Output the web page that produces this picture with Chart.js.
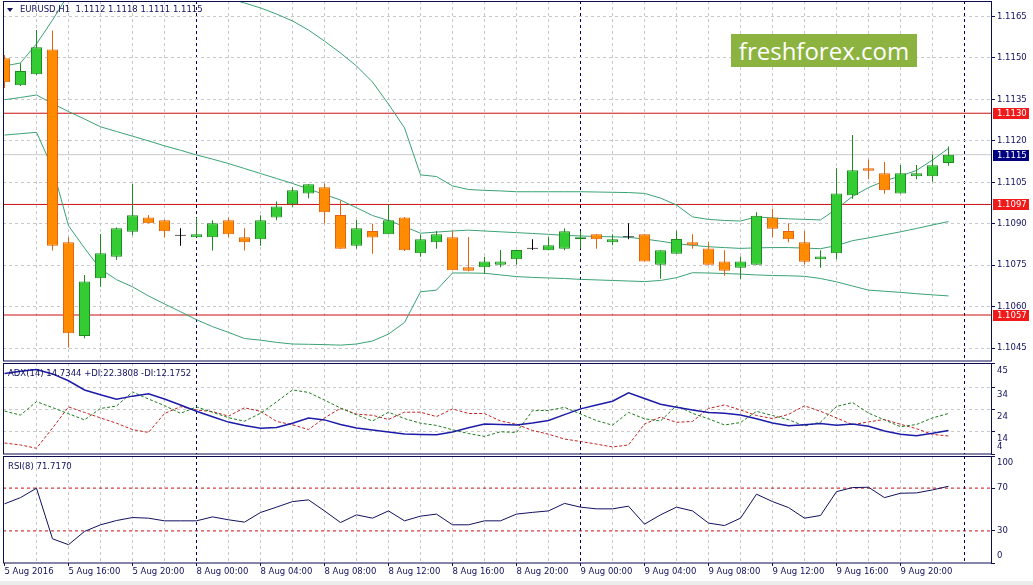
<!DOCTYPE html>
<html>
<head>
<meta charset="utf-8">
<title>EURUSD,H1</title>
<script src="https://cdn.jsdelivr.net/npm/chart.js@4.4.1/dist/chart.umd.min.js"></script>
<style>
  html, body { margin: 0; padding: 0; background: #fff; }
  #wrap { position: relative; width: 1033px; height: 585px; overflow: hidden; }
  canvas { position: absolute; left: 0; }
  #main { top: 0; }
  #adx { top: 362px; }
  #rsi { top: 455px; }
  .lbl { position: absolute; font: 8.5px 'DejaVu Sans', sans-serif; color: #101060; white-space: pre; line-height: 10px; }
  #tri { position: absolute; left: 7px; top: 8px; width: 0; height: 0;
         border-left: 3px solid transparent; border-right: 3px solid transparent; border-top: 4px solid #101060; }
  #logo { position: absolute; left: 731px; top: 34px; width: 186px; height: 33px; background: #8cb33f;
          color: #fff; font: 24px 'Open Sans', sans-serif; line-height: 33px; text-align: center; }
  #foot { position: absolute; left: 0; top: 581px; width: 1033px; height: 4px; background: #ececec; }
</style>
</head>
<body>
<div id="wrap">
  <canvas id="main" width="1033" height="362"></canvas>
  <canvas id="adx" width="1033" height="93"></canvas>
  <canvas id="rsi" width="1033" height="130"></canvas>
  <div id="tri"></div>
  <div class="lbl" style="left:20px; top:4px;">EURUSD,H1  1.1112 1.1118 1.1111 1.1115</div>
  <div id="logo">freshforex.com</div>
  <div class="lbl" style="left:8px; top:368px;">ADX(14) 14.7344 +DI:22.3808 -DI:12.1752</div>
  <div class="lbl" style="left:8px; top:461px;">RSI(8) 71.7170</div>
  <div id="foot"></div>
</div>
<script>
// hourly bars, 5 Aug 12:00 .. 9 Aug 23:00 (index 0..59)
const opens  = [1.11499, 1.11401, 1.11441, 1.11531, 1.10833, 1.10494, 1.10703, 1.10781, 1.10871, 1.10923,
                1.10913, 1.10857, 1.10851, 1.10851, 1.10913, 1.10851, 1.10844, 1.10923, 1.10971, 1.11010,
                1.11032, 1.10932, 1.10821, 1.10874, 1.10862, 1.10923, 1.10793, 1.10833, 1.10851, 1.10743,
                1.10743, 1.10752, 1.10772, 1.10810, 1.10804, 1.10810, 1.10844, 1.10862, 1.10833, 1.10851,
                1.10862, 1.10752, 1.10792, 1.10833, 1.10811, 1.10764, 1.10741, 1.10752, 1.10923, 1.10874,
                1.10833, 1.10772, 1.10793, 1.11003, 1.11101, 1.11083, 1.11010, 1.11072, 1.11072, 1.11120];
const highs  = [1.11511, 1.11481, 1.11601, 1.11599, 1.10851, 1.10715, 1.10863, 1.10887, 1.11044, 1.10932,
                1.10915, 1.10884, 1.10923, 1.10913, 1.10923, 1.10884, 1.10931, 1.10981, 1.11032, 1.11043,
                1.11046, 1.10984, 1.10914, 1.10900, 1.10971, 1.10925, 1.10862, 1.10874, 1.10874, 1.10852,
                1.10781, 1.10805, 1.10805, 1.10844, 1.10851, 1.10884, 1.10874, 1.10862, 1.10862, 1.10902,
                1.10862, 1.10804, 1.10875, 1.10862, 1.10833, 1.10804, 1.10782, 1.10942, 1.10954, 1.10902,
                1.10874, 1.10804, 1.11101, 1.11221, 1.11133, 1.11124, 1.11113, 1.11113, 1.11151, 1.11180];
const lows   = [1.11391, 1.11399, 1.11438, 1.10803, 1.10452, 1.10486, 1.10672, 1.10769, 1.10859, 1.10902,
                1.10851, 1.10821, 1.10851, 1.10803, 1.10851, 1.10803, 1.10821, 1.10913, 1.10962, 1.10992,
                1.10902, 1.10810, 1.10810, 1.10792, 1.10862, 1.10802, 1.10781, 1.10810, 1.10732, 1.10728,
                1.10718, 1.10743, 1.10752, 1.10805, 1.10804, 1.10804, 1.10810, 1.10810, 1.10822, 1.10844,
                1.10764, 1.10701, 1.10792, 1.10810, 1.10752, 1.10712, 1.10701, 1.10752, 1.10851, 1.10833,
                1.10752, 1.10741, 1.10772, 1.10991, 1.11061, 1.11009, 1.11010, 1.11061, 1.11052, 1.11110];
const closes = [1.11412, 1.11453, 1.11539, 1.10821, 1.10504, 1.10691, 1.10793, 1.10884, 1.10931, 1.10902,
                1.10873, 1.10857, 1.10862, 1.10902, 1.10862, 1.10833, 1.10913, 1.10963, 1.11021, 1.11043,
                1.10942, 1.10810, 1.10884, 1.10850, 1.10913, 1.10804, 1.10844, 1.10862, 1.10732, 1.10730,
                1.10764, 1.10764, 1.10805, 1.10810, 1.10822, 1.10873, 1.10851, 1.10844, 1.10844, 1.10851,
                1.10764, 1.10804, 1.10845, 1.10822, 1.10752, 1.10730, 1.10764, 1.10929, 1.10882, 1.10844,
                1.10763, 1.10782, 1.11010, 1.11094, 1.11092, 1.11021, 1.11083, 1.11083, 1.11112, 1.11150];

// Bollinger bands
const bbUpper  = [1.11471, 1.11482, 1.11551, 1.11637, 1.11730, 1.11780, 1.11820, 1.11850, 1.11860, 1.11860,
                  1.11850, 1.11830, 1.11800, 1.11760, 1.11715, 1.11699, 1.11681, 1.11659, 1.11634, 1.11601,
                  1.11561, 1.11518, 1.11471, 1.11413, 1.11333, 1.11247, 1.11077, 1.11071, 1.11037, 1.11024,
                  1.11021, 1.11019, 1.11016, 1.11016, 1.11016, 1.11016, 1.11016, 1.11015, 1.11014, 1.11013,
                  1.11010, 1.10993, 1.10968, 1.10925, 1.10916, 1.10912, 1.10910, 1.10925, 1.10921, 1.10918,
                  1.10916, 1.10914, 1.10954, 1.10999, 1.11031, 1.11055, 1.11073, 1.11093, 1.11131, 1.11173];
const bbMiddle = [1.11349, 1.11357, 1.11366, 1.11335, 1.11306, 1.11279, 1.11251, 1.11234, 1.11217, 1.11200,
                  1.11182, 1.11166, 1.11149, 1.11134, 1.11118, 1.11100, 1.11082, 1.11064, 1.11046, 1.11026,
                  1.11006, 1.10986, 1.10958, 1.10930, 1.10912, 1.10890, 1.10866, 1.10870, 1.10874, 1.10877,
                  1.10874, 1.10871, 1.10868, 1.10865, 1.10862, 1.10858, 1.10856, 1.10854, 1.10853, 1.10851,
                  1.10845, 1.10837, 1.10828, 1.10822, 1.10817, 1.10814, 1.10811, 1.10813, 1.10814, 1.10814,
                  1.10812, 1.10810, 1.10821, 1.10839, 1.10849, 1.10860, 1.10871, 1.10883, 1.10896, 1.10908];
const bbLower  = [1.11221, 1.11226, 1.11231, 1.11102, 1.10893, 1.10812, 1.10736, 1.10698, 1.10672, 1.10639,
                  1.10610, 1.10582, 1.10553, 1.10528, 1.10507, 1.10485, 1.10479, 1.10471, 1.10465, 1.10464,
                  1.10463, 1.10461, 1.10465, 1.10476, 1.10501, 1.10543, 1.10654, 1.10660, 1.10722, 1.10722,
                  1.10721, 1.10715, 1.10709, 1.10706, 1.10704, 1.10702, 1.10699, 1.10697, 1.10695, 1.10693,
                  1.10691, 1.10695, 1.10705, 1.10723, 1.10722, 1.10720, 1.10718, 1.10715, 1.10713, 1.10712,
                  1.10710, 1.10702, 1.10690, 1.10675, 1.10660, 1.10656, 1.10652, 1.10647, 1.10643, 1.10639];

// ADX(14)
const adxMain = [40.6, 41.6, 42.4, 40.4, 37.3, 33.1, 30.9, 28.9, 30.3, 31.4,
                 29.0, 26.3, 23.4, 20.9, 18.5, 17.0, 15.7, 16.0, 18.0, 20.4,
                 19.5, 17.4, 15.8, 14.9, 14.0, 13.1, 12.9, 12.7, 14.0, 15.9,
                 17.6, 17.4, 17.2, 18.1, 19.2, 21.9, 24.5, 26.3, 28.0, 31.8,
                 29.2, 26.6, 25.2, 24.0, 22.9, 22.5, 21.7, 20.0, 18.1, 16.8,
                 17.3, 17.9, 17.1, 17.6, 16.6, 14.5, 13.0, 12.3, 13.4, 14.7];
const plusDI  = [23.5, 21.7, 27.8, 25.1, 22.3, 19.5, 24.7, 25.8, 32.2, 29.0,
                 26.0, 22.5, 25.4, 23.0, 20.5, 18.9, 22.5, 27.7, 33.1, 32.0,
                 28.5, 24.9, 21.8, 19.0, 23.0, 20.1, 18.0, 17.0, 15.0, 13.3,
                 12.0, 14.1, 13.8, 23.7, 23.8, 25.2, 22.2, 19.2, 17.1, 22.9,
                 20.0, 19.0, 26.0, 22.5, 20.0, 17.2, 18.3, 23.4, 21.5, 19.6,
                 16.7, 18.5, 25.6, 27.4, 22.6, 19.5, 16.4, 17.4, 20.4, 22.4];
const minusDI = [9.0, 8.1, 6.6, 15.8, 25.4, 22.9, 20.4, 18.0, 15.1, 13.8,
                 22.4, 25.5, 24.0, 23.3, 21.2, 25.0, 23.4, 18.8, 17.3, 15.1,
                 20.4, 24.8, 22.1, 21.6, 19.7, 23.0, 23.0, 21.0, 24.5, 22.4,
                 22.4, 19.0, 17.5, 14.7, 13.0, 10.8, 9.7, 8.5, 7.2, 8.1,
                 17.6, 20.8, 18.4, 18.8, 24.7, 26.3, 24.0, 21.5, 20.1, 22.0,
                 25.9, 23.4, 20.4, 17.3, 18.6, 19.7, 17.5, 15.5, 12.9, 12.2];

// RSI(8)
const rsi = [55.3, 61.1, 69.9, 22.6, 17.1, 29.5, 35.7, 39.7, 42.5, 41.9,
             39.4, 39.4, 39.4, 43.1, 40.4, 38.2, 47.2, 52.2, 57.4, 59.0,
             48.7, 37.8, 45.0, 41.9, 48.7, 39.4, 43.8, 45.7, 35.7, 35.7,
             39.4, 39.4, 45.7, 47.3, 48.7, 55.7, 52.2, 50.6, 50.6, 53.1,
             36.3, 45.0, 52.2, 48.7, 37.3, 35.0, 41.9, 64.3, 57.4, 51.8,
             41.9, 44.4, 66.7, 70.5, 70.8, 61.1, 65.2, 65.5, 68.3, 71.7];

const priceLevels = [1.1130, 1.1097, 1.1057];
const rsiLevels = [70, 30];
const priceTicks = [1.1045, 1.1060, 1.1075, 1.1090, 1.1105, 1.1120, 1.1135, 1.1150, 1.1165];
const adxTicks = [4, 14, 24, 34, 45];
const rsiTicks = [0, 30, 70, 100];
const timeTickIdx = [0, 4, 8, 12, 16, 20, 24, 28, 32, 36, 40, 44, 48, 52, 56];
const timeTickLabels = ['5 Aug 2016', '5 Aug 16:00', '5 Aug 20:00', '8 Aug 00:00', '8 Aug 04:00',
                        '8 Aug 08:00', '8 Aug 12:00', '8 Aug 16:00', '8 Aug 20:00', '9 Aug 00:00',
                        '9 Aug 04:00', '9 Aug 08:00', '9 Aug 12:00', '9 Aug 16:00', '9 Aug 20:00'];
const daySeparators = [12, 36, 60];

const navy = '#101060';
const gridGray = '#c8c8c8';
const clear = 'rgba(0,0,0,0)';
const xMin = -0.09375, xMax = 61.65625;

Chart.defaults.font.family = "'DejaVu Sans', sans-serif";
Chart.defaults.font.size = 8.5;
Chart.defaults.color = navy;

const gridIdx = [];
for (let i = 0; i <= 60; i += 2) gridIdx.push(i);

const pts = arr => arr.map((v, i) => ({ x: i, y: v }));
const hline = v => [{ x: xMin, y: v }, { x: xMax, y: v }];

function xAxis(showLabels) {
    return {
        type: 'linear', min: xMin, max: xMax, offset: false,
        afterBuildTicks: s => { s.ticks = gridIdx.map(v => ({ value: v })); },
        afterFit: s => { s.height = showLabels ? 22 : 0; s.paddingLeft = 0; s.paddingRight = 0; },
        grid: {
            offset: false,
            color: c => {
                if (!c.tick) return gridGray;
                if (daySeparators.includes(c.tick.value)) return '#000060';
                return c.tick.value === 0 ? clear : gridGray;
            },
            drawTicks: showLabels,
            tickLength: 3,
            tickColor: c => (c.tick && timeTickIdx.includes(c.tick.value)) ? navy : clear
        },
        border: { display: false, dash: [3, 3] },
        ticks: {
            display: showLabels, autoSkip: false, maxRotation: 0, minRotation: 0,
            align: 'start', padding: 1,
            callback: v => {
                const k = timeTickIdx.indexOf(v);
                return k >= 0 ? timeTickLabels[k] : '';
            }
        }
    };
}

function yAxis(min, max, tickVals, fmt, gridOn) {
    return {
        type: 'linear', position: 'right', min: min, max: max,
        afterBuildTicks: s => { s.ticks = tickVals.map(v => ({ value: v })); },
        afterFit: s => { s.width = 42; s.paddingTop = 0; s.paddingBottom = 0; },
        grid: {
            color: c => (c.tick && gridOn(c.tick.value)) ? gridGray : clear,
            tickLength: 4,
            tickColor: navy
        },
        border: { display: false, dash: [3, 3] },
        ticks: { autoSkip: false, padding: 2, font: { size: 8.5, lineHeight: 1.6 }, callback: fmt }
    };
}

const framePlugin = {
    id: 'frame',
    afterDatasetsDraw(chart) {
        const a = chart.chartArea, ctx = chart.ctx;
        ctx.save();
        ctx.strokeStyle = '#0c0c50';
        ctx.lineWidth = 1;
        ctx.strokeRect(a.left + 0.5, a.top + 0.5, a.right - a.left, a.bottom - a.top - 0.5);
        ctx.restore();
    }
};

const tagPlugin = {
    id: 'tags',
    afterDraw(chart) {
        const y = chart.scales.y, a = chart.chartArea, ctx = chart.ctx;
        const tag = (v, bg) => {
            const py = Math.round(y.getPixelForValue(v));
            ctx.save();
            ctx.fillStyle = bg;
            ctx.fillRect(a.right + 2, py - 5, 36, 11);
            ctx.fillStyle = '#ffffff';
            ctx.font = "8.5px 'DejaVu Sans', sans-serif";
            ctx.textBaseline = 'middle';
            ctx.fillText(v.toFixed(4), a.right + 6, py + 0.5);
            ctx.restore();
        };
        priceLevels.forEach(v => tag(v, '#f01a1a'));
        tag(closes[closes.length - 1], '#000080');
    }
};

const baseOptions = (padTop, padBottom) => ({
    responsive: false,
    animation: false,
    events: [],
    layout: { padding: { left: 3, right: 0, top: padTop, bottom: padBottom } },
    plugins: { legend: { display: false }, tooltip: { enabled: false } }
});

function lineSet(data, color, width, dash, order) {
    return {
        type: 'line', data: data, borderColor: color, borderWidth: width, borderDash: dash || [],
        pointRadius: 0, tension: 0, fill: false, order: order, clip: 0
    };
}

// ---- main price panel ----
const kind = closes.map((c, i) => c > opens[i] ? 'up' : (c < opens[i] ? 'down' : 'flat'));
const bodyFill = kind.map(k => k === 'up' ? '#33cc33' : (k === 'down' ? '#ff8c00' : '#000000'));
const edge = kind.map(k => k === 'up' ? '#1f8a1f' : (k === 'down' ? '#e2620e' : '#000000'));

const mainOpts = baseOptions(1, 1);
mainOpts.scales = {
    x: xAxis(false),
    y: yAxis(1.104036, 1.117061, priceTicks, v => v.toFixed(4), () => true)
};

new Chart(document.getElementById('main'), {
    type: 'line',
    data: {
        datasets: [
            {
                type: 'bar', label: 'body', order: 1, grouped: false,
                data: opens.map((o, i) => ({ x: i, y: [o, closes[i]] })),
                backgroundColor: bodyFill, borderColor: edge, borderWidth: 1,
                borderSkipped: false, inflateAmount: 0, minBarLength: 1,
                categoryPercentage: 1, barPercentage: 1, maxBarThickness: 11
            },
            {
                type: 'bar', label: 'wick', order: 2, grouped: false,
                data: lows.map((l, i) => ({ x: i, y: [l, highs[i]] })),
                backgroundColor: edge, borderWidth: 0, inflateAmount: 0,
                categoryPercentage: 1, barPercentage: 1, maxBarThickness: 1
            },
            lineSet(pts(bbUpper), '#3aa274', 1, null, 3),
            lineSet(pts(bbMiddle), '#3aa274', 1, null, 3),
            lineSet(pts(bbLower), '#3aa274', 1, null, 3),
            ...priceLevels.map(v => lineSet(hline(v), '#cc1010', 1, null, 4)),
            lineSet(hline(closes[closes.length - 1]), '#c8c8c8', 1, null, 5)
        ]
    },
    options: mainOpts,
    plugins: [framePlugin, tagPlugin]
});

// ---- ADX panel ----
const adxOpts = baseOptions(1, 1);
adxOpts.scales = {
    x: xAxis(false),
    y: yAxis(4, 45.36, adxTicks,
        v => v === 4 ? ['4', ''] : ['', String(v)],
        v => v === 14 || v === 24 || v === 34)
};

new Chart(document.getElementById('adx'), {
    type: 'line',
    data: {
        datasets: [
            lineSet(pts(adxMain), '#1c1ca8', 1.5, null, 1),
            lineSet(pts(plusDI), '#1e7d1e', 1, [3, 2], 2),
            lineSet(pts(minusDI), '#c42020', 1, [3, 2], 3)
        ]
    },
    options: adxOpts,
    plugins: [framePlugin]
});

// ---- RSI panel ----
const rsiOpts = baseOptions(1, 0);
rsiOpts.scales = {
    x: xAxis(true),
    y: yAxis(0, 100, rsiTicks,
        v => v === 100 ? ['', '100'] : (v === 0 ? ['0', ''] : String(v)),
        () => false)
};

new Chart(document.getElementById('rsi'), {
    type: 'line',
    data: {
        datasets: [
            lineSet(pts(rsi), '#101060', 1, null, 1),
            ...rsiLevels.map(v => lineSet(hline(v), '#c81010', 1, [3, 3], 2))
        ]
    },
    options: rsiOpts,
    plugins: [framePlugin]
});
</script>
</body>
</html>
